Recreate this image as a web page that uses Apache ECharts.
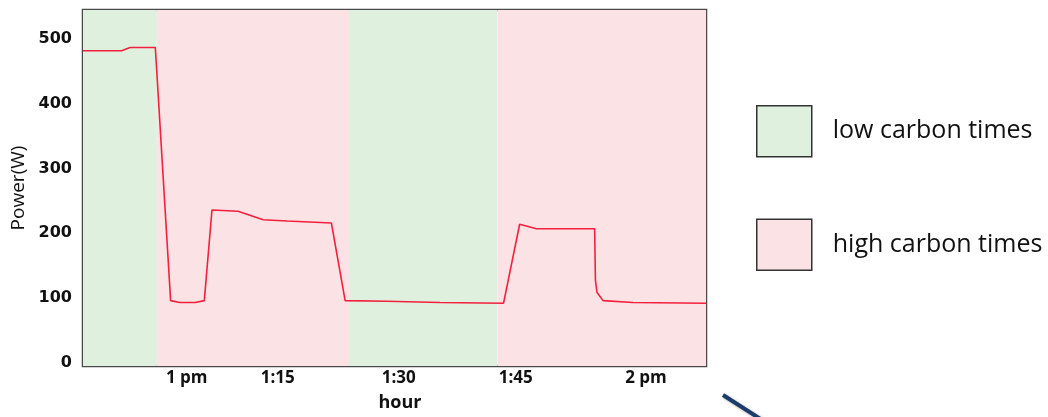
<!DOCTYPE html>
<html>
<head>
<meta charset="utf-8">
<script src="https://cdn.jsdelivr.net/npm/echarts@6/dist/echarts.min.js"></script>
<style>html,body{margin:0;padding:0;background:#fff}#c{width:1048px;height:417px}</style>
</head>
<body>
<div id="c"></div>
<script>
// x values: minutes after 12:00 (noon)
const timeMin = [46.45, 51.5, 52.6, 55.9, 57.9, 59.1, 61.1, 62.3, 63.3, 66.7, 70.0, 73.1, 78.9, 80.7, 86.1, 93.1, 101.4, 103.5, 105.7, 113.3, 113.4, 113.6, 114.4, 118.3, 127.85];
const powerW  = [482, 482, 487, 487, 96, 93, 93, 96, 236, 234, 221, 219, 216, 96, 95, 93, 92, 214, 207, 207, 128, 109, 96, 93, 92];
const lowCarbonPeriods  = [[46.45, 56.1], [81.2, 100.6]];
const highCarbonPeriods = [[56.1, 81.2], [100.6, 127.85]];
const xTickValues = [60, 71.9, 87.7, 103.0, 120];
const xTickLabels = ['1 pm', '1:15', '1:30', '1:45', '2 pm'];
const yTickValues = [0, 100, 200, 300, 400, 500];
const legendNames = ['low carbon times', 'high carbon times'];

const GREEN = '#dff1de', PINK = '#fbe3e5';
const FONT = '"Open Sans", "DejaVu Sans", sans-serif';

const chart = echarts.init(document.getElementById('c'), null, {renderer: 'canvas'});
chart.setOption({
  backgroundColor: '#fff',
  animation: false,
  grid: {left: 83, right: 342, top: 10, bottom: 47, show: true, borderColor: '#4a4a4a', borderWidth: 2.5, backgroundColor: 'transparent'},
  xAxis: {
    type: 'value', min: timeMin[0], max: timeMin[timeMin.length - 1],
    axisLine: {show: false}, axisTick: {show: false}, splitLine: {show: false},
    axisLabel: {customValues: xTickValues, formatter: v => xTickLabels[xTickValues.indexOf(v)] || '',
      color: '#111', fontFamily: FONT, fontSize: 17, fontWeight: 700, margin: 4},
    name: 'hour', nameLocation: 'middle', nameGap: 28,
    nameTextStyle: {color: '#111', fontFamily: FONT, fontSize: 18, fontWeight: 700, padding: [0, 0, 0, 11]}
  },
  yAxis: {
    type: 'value', min: -5, max: 545,
    axisLine: {show: false}, axisTick: {show: false}, splitLine: {show: false},
    axisLabel: {customValues: yTickValues, color: '#111', fontFamily: '"DejaVu Sans", sans-serif', fontSize: 16, fontWeight: 700, margin: 11},
    name: 'Power(W)', nameLocation: 'middle', nameGap: 55,
    nameTextStyle: {color: '#111', fontFamily: FONT, fontSize: 19, fontWeight: 500}
  },
  legend: {
    orient: 'vertical', left: 756, top: 105, padding: 0, itemWidth: 55, itemHeight: 51, itemGap: 61,
    icon: 'rect',
    data: [
      {name: legendNames[0], itemStyle: {color: GREEN, borderColor: '#333', borderWidth: 1.5}},
      {name: legendNames[1], itemStyle: {color: PINK, borderColor: '#333', borderWidth: 1.5}}
    ],
    textStyle: {color: '#111', fontFamily: FONT, fontSize: 25, padding: [0, 0, 0, 16]},
    selectedMode: false
  },
  series: [
    {name: legendNames[0], type: 'line', data: [], itemStyle: {color: GREEN}, silent: true,
     markArea: {silent: true, itemStyle: {color: GREEN}, data: lowCarbonPeriods.map(p => [{xAxis: p[0]}, {xAxis: p[1]}])}},
    {name: legendNames[1], type: 'line', data: [], itemStyle: {color: PINK}, silent: true,
     markArea: {silent: true, itemStyle: {color: PINK}, data: highCarbonPeriods.map(p => [{xAxis: p[0]}, {xAxis: p[1]}])}},
    {name: 'Power', type: 'line', data: timeMin.map((t, i) => [t, powerW[i]]),
     showSymbol: false, smooth: false, lineStyle: {color: '#f2203c', width: 1.6}, z: 5}
  ],
  graphic: [
    {type: 'line', shape: {x1: 723, y1: 395, x2: 762, y2: 420}, style: {stroke: '#1b3b6b', lineWidth: 4, shadowBlur: 3, shadowColor: 'rgba(0,0,0,0.3)', shadowOffsetX: 1, shadowOffsetY: 1}}
  ]
});
</script>
</body>
</html>
